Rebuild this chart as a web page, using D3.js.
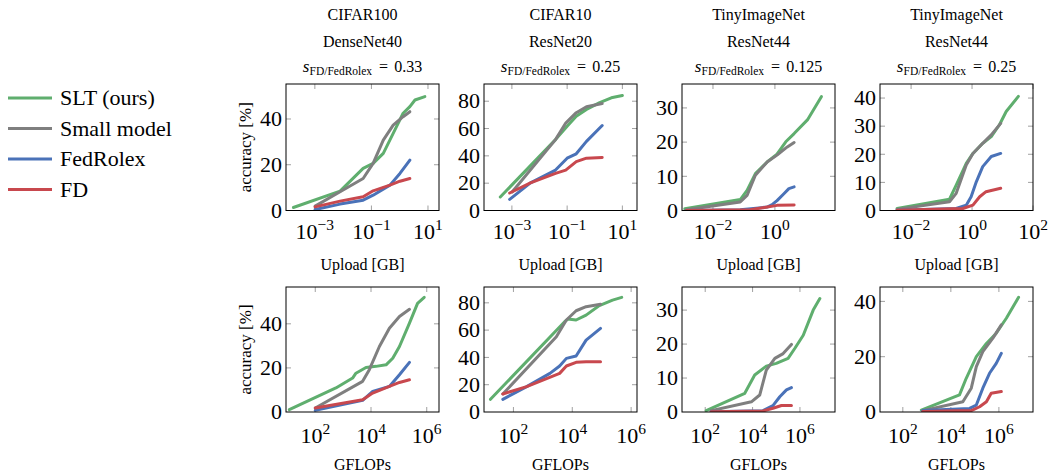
<!DOCTYPE html>
<html>
<head>
<meta charset="utf-8">
<script src="https://cdn.jsdelivr.net/npm/d3@7"></script>
<style>
  html, body, svg, svg text, svg tspan {
    font-family: "Liberation Serif", Tinos, "Times New Roman", "Nimbus Roman", FreeSerif, serif !important;
  }
  body { margin: 0; }
</style>
</head>
<body>
<svg id="chart" width="1051" height="476"></svg>
<script>
// legend / series names
var seriesNames = ["SLT (ours)", "Small model", "FedRolex", "FD"];
var seriesColors = ["#5fae6e", "#7f7f7f", "#4a72b8", "#c8484e"];

// column titles
var datasets = ["CIFAR100", "CIFAR10", "TinyImageNet", "TinyImageNet"];
var models = ["DenseNet40", "ResNet20", "ResNet44", "ResNet44"];
var ratios = ["0.33", "0.25", "0.125", "0.25"];

// ---- upload [GB] vs accuracy [%] ----
var c100UpSlt = [[1.74e-4,1.3],[7.8e-3,8.5],[0.051,18.4],[0.115,20.6],[0.263,25],[0.589,33.7],[1.32,42.5],[2.29,45.4],[3.47,48.3],[7.76,49.8]];
var c100UpSmall = [[1.02e-3,1.9],[7.8e-3,8.2],[0.051,14],[0.115,20.6],[0.263,30.8],[0.589,37.3],[1.32,41],[2.29,43.2]];
var c100UpRolex = [[1.02e-3,0.4],[7.8e-3,2.8],[0.051,4.5],[0.115,6.7],[0.452,11.1],[1.02,16.2],[2.29,22]];
var c100UpFd = [[1.02e-3,1.6],[7.8e-3,4.1],[0.051,6],[0.115,8.6],[0.452,11.1],[1.02,12.8],[2.29,14]];

var c10UpSlt = [[3.8e-4,9.9],[0.038,51.9],[0.1,61.7],[0.214,69],[0.501,74],[1.51,79],[3.98,82.5],[10,84.2]];
var c10UpSmall = [[1.02e-3,13.6],[0.038,51.9],[0.089,64],[0.214,71.6],[0.501,76],[1.86,78.3]];
var c10UpRolex = [[8.3e-4,8.1],[4.7e-3,20.2],[0.038,29.6],[0.1,38.3],[0.214,41.5],[0.501,50.6],[1.86,62.2]];
var c10UpFd = [[8.3e-4,12.8],[4.7e-3,20.2],[0.038,27.2],[0.089,29.6],[0.214,35.8],[0.501,38.3],[1.86,38.8]];

var tinyAUpSlt = [[1.23e-3,0.5],[0.076,3.2],[0.126,5.9],[0.234,10.8],[0.562,14.2],[1.17,16.5],[2.24,20.1],[4.17,22.5],[11.2,26.5],[31.6,33.3]];
var tinyAUpSmall = [[1.38e-3,0.2],[0.076,2.5],[0.126,4.4],[0.234,10.3],[0.562,14.2],[1.17,16.2],[2.51,18.6],[4.17,19.9]];
var tinyAUpRolex = [[1.38e-3,0],[0.076,0.2],[0.562,1.0],[0.813,1.7],[1.17,2.9],[1.95,4.9],[2.82,6.4],[4.17,6.9]];
var tinyAUpFd = [[1.38e-3,0],[0.158,0.2],[0.562,1.0],[1.17,1.5],[4.17,1.6]];

var tinyBUpSlt = [[3.47e-3,0.7],[0.182,4.0],[0.302,9.0],[0.646,16.8],[1.07,20.3],[2.24,23.9],[4.27,26.3],[7.94,30.5],[13.2,35.2],[33.1,40.6]];
var tinyBUpSmall = [[3.47e-3,0.4],[0.182,3.1],[0.302,6.1],[0.646,16.2],[1.07,20.3],[2.24,23.9],[4.27,26.9],[8.71,31]];
var tinyBUpRolex = [[3.47e-3,0.1],[0.302,0.7],[0.646,1.9],[0.933,4.9],[1.38,10.2],[2.24,15.6],[4.27,19.2],[8.71,20.3]];
var tinyBUpFd = [[3.47e-3,0.1],[0.501,0.7],[1.07,1.9],[1.78,4.9],[2.88,6.7],[8.71,7.9]];

// ---- GFLOPs vs accuracy [%] ----
var c100FlSlt = [[11.7,1.1],[550,10.9],[2190,15.4],[2880,17.6],[6610,20.2],[15100,20.7],[34700,21.4],[60300,24.4],[105000,29.7],[240000,40.3],[468000,49.3],[813000,52]];
var c100FlSmall = [[100,1.8],[5010,13.9],[8710,19.2],[20000,29.7],[45700,38],[105000,43.3],[240000,46.6]];
var c100FlRolex = [[100,0.75],[5010,5.3],[11500,9.3],[45700,11.6],[105000,16.9],[240000,22.5]];
var c100FlFd = [[100,1.8],[5010,5.6],[11500,8.6],[45700,11.6],[105000,13.4],[240000,14.6]];

var c10FlSlt = [[16.6,9.3],[5500,66.2],[7080,68.1],[13500,67.4],[29500,71],[83200,78],[234000,82],[479000,84]];
var c10FlSmall = [[43.7,13.2],[2880,55.2],[6310,67.4],[13500,74.2],[29500,77.2],[91200,79]];
var c10FlRolex = [[43.7,9.3],[282,18.6],[1740,28.3],[3720,33.7],[6310,39.3],[13500,41],[29500,52.7],[91200,61.3]];
var c10FlFd = [[43.7,13.2],[282,18.6],[3720,28.3],[6310,33.7],[13500,36.4],[29500,36.9],[91200,36.9]];

var tinyAFlSlt = [[110,0.4],[4680,5.5],[12300,10.9],[38000,13.5],[100000,14.3],[316000,15.8],[603000,18.7],[1.38e6,22.6],[3.63e6,30],[6.92e6,33.4]];
var tinyAFlSmall = [[178,0.4],[8910,3.0],[20000,5.0],[38000,12.3],[87100,15.8],[195000,17.2],[437000,19.9]];
var tinyAFlRolex = [[178,0.1],[27500,0.4],[72400,1.9],[141000,4.5],[269000,6.5],[437000,7.2]];
var tinyAFlFd = [[178,0.1],[27500,0.3],[72400,1.1],[166000,1.9],[437000,1.9]];

var tinyBFlSlt = [[589,0.7],[22900,6.2],[43700,12.2],[115000,20],[302000,24.8],[776000,28.5],[2.04e6,33.9],[6.61e6,41.5]];
var tinyBFlSmall = [[676,0.5],[31600,3.7],[70800,8.6],[115000,16.4],[214000,21.8],[562000,26.7],[1.26e6,31.5]];
var tinyBFlRolex = [[676,0.5],[60300,1.3],[115000,2.5],[214000,8.6],[407000,14],[776000,17.6],[1.26e6,21.2]];
var tinyBFlFd = [[676,0.2],[70800,0.5],[158000,1.9],[302000,3.7],[479000,6.8],[1.26e6,7.4]];

// axis tick labels (exponents of 10 and accuracy values)
var upTickExp = [[-3,-1,1],[-3,-1,1],[-2,0],[-2,0,2]];
var flTickExp = [2,4,6];
var accTicks = [[0,20,40],[0,20,40,60,80],[0,10,20,30],[0,10,20,30,40]];

var panels = [
  {row:0,col:0,series:[c100UpSlt,c100UpSmall,c100UpRolex,c100UpFd],xd:[-4.02,1.39],ymax:55.3,xt:upTickExp[0],yt:accTicks[0]},
  {row:0,col:1,series:[c10UpSlt,c10UpSmall,c10UpRolex,c10UpFd],xd:[-4.01,1.53],ymax:92.6,xt:upTickExp[1],yt:accTicks[1]},
  {row:0,col:2,series:[tinyAUpSlt,tinyAUpSmall,tinyAUpRolex,tinyAUpFd],xd:[-3.0,1.94],ymax:37,xt:upTickExp[2],yt:accTicks[2]},
  {row:0,col:3,series:[tinyBUpSlt,tinyBUpSmall,tinyBUpRolex,tinyBUpFd],xd:[-3.02,2.0],ymax:45,xt:upTickExp[3],yt:accTicks[3]},
  {row:1,col:0,series:[c100FlSlt,c100FlSmall,c100FlRolex,c100FlFd],xd:[0.95,6.44],ymax:56.7,xt:flTickExp,yt:accTicks[0]},
  {row:1,col:1,series:[c10FlSlt,c10FlSmall,c10FlRolex,c10FlFd],xd:[1.0,6.2],ymax:91.6,xt:flTickExp,yt:accTicks[1]},
  {row:1,col:2,series:[tinyAFlSlt,tinyAFlSmall,tinyAFlRolex,tinyAFlFd],xd:[1.02,7.48],ymax:36.8,xt:flTickExp,yt:accTicks[2]},
  {row:1,col:3,series:[tinyBFlSlt,tinyBFlSmall,tinyBFlRolex,tinyBFlFd],xd:[1.05,7.42],ymax:45.2,xt:flTickExp,yt:[0,20,40]}
];

var svg = d3.select("#chart");
var colLeft = [286, 484, 682, 880];
var boxW = 153;
var rowTop = [84, 287];
var boxH = [126.5, 125];
var tickLen = 5;
var serifList = "'Liberation Serif', Tinos, 'Times New Roman', 'Nimbus Roman', FreeSerif, serif";

function label(size) {
  return svg.append("text")
    .style("font-family", serifList)
    .attr("font-size", size);
}

panels.forEach(function(p, i) {
  var x0 = colLeft[p.col], y0 = rowTop[p.row], h = boxH[p.row];
  var x = d3.scaleLog().domain([Math.pow(10, p.xd[0]), Math.pow(10, p.xd[1])]).range([x0, x0 + boxW]);
  var y = d3.scaleLinear().domain([0, p.ymax]).range([y0 + h, y0]);
  var g = svg.append("g");

  g.append("clipPath").attr("id", "clip" + i)
    .append("rect").attr("x", x0).attr("y", y0).attr("width", boxW).attr("height", h);

  // tick marks inside on all four sides
  p.xt.forEach(function(e) {
    var px = x(Math.pow(10, e));
    if (px > x0 + boxW + 0.5) return;
    g.append("line").attr("x1", px).attr("x2", px).attr("y1", y0 + h).attr("y2", y0 + h - tickLen)
      .attr("stroke", "#a0a0a0");
    g.append("line").attr("x1", px).attr("x2", px).attr("y1", y0).attr("y2", y0 + tickLen)
      .attr("stroke", "#a0a0a0");
    var t = label(22).attr("x", px).attr("y", y0 + h + (p.row == 0 ? 28 : 31))
      .attr("text-anchor", "middle");
    t.append("tspan").text("10");
    t.append("tspan").attr("dy", -9).attr("font-size", 15.5).text(e < 0 ? "\u2212" + (-e) : e);
  });
  p.yt.forEach(function(v) {
    var py = y(v);
    if (v > 0) {
      g.append("line").attr("x1", x0).attr("x2", x0 + tickLen).attr("y1", py).attr("y2", py).attr("stroke", "#a0a0a0");
      g.append("line").attr("x1", x0 + boxW).attr("x2", x0 + boxW - tickLen).attr("y1", py).attr("y2", py).attr("stroke", "#a0a0a0");
    }
    label(22).attr("x", x0 - 4).attr("y", py).attr("dy", "0.33em")
      .attr("text-anchor", "end").text(v);
  });

  var line = d3.line().x(function(d) { return x(d[0]); }).y(function(d) { return y(d[1]); });
  var lines = g.append("g").attr("clip-path", "url(#clip" + i + ")");
  p.series.forEach(function(s, k) {
    lines.append("path").datum(s).attr("d", line)
      .attr("fill", "none").attr("stroke", seriesColors[k]).attr("stroke-width", 3)
      .attr("stroke-linejoin", "round").attr("stroke-linecap", "round");
  });

  g.append("rect").attr("x", x0).attr("y", y0).attr("width", boxW).attr("height", h)
    .attr("fill", "none").attr("stroke", "#000").attr("stroke-width", 1);

  var cx = x0 + boxW / 2;
  if (p.row == 0) {
    label(16).attr("x", cx).attr("y", 20).attr("text-anchor", "middle").text(datasets[p.col]);
    label(16).attr("x", cx).attr("y", 47).attr("text-anchor", "middle").text(models[p.col]);
    var t3 = label(16).attr("x", cx).attr("y", 72).attr("text-anchor", "middle");
    t3.append("tspan").attr("font-style", "italic").attr("font-size", 17).text("s");
    t3.append("tspan").attr("font-size", 11.5).attr("dy", 3).text("FD/FedRolex");
    t3.append("tspan").attr("dy", -3).attr("dx", 7).text("=");
    t3.append("tspan").attr("dx", 6).text(ratios[p.col]);
    label(16).attr("x", cx).attr("y", 270).attr("text-anchor", "middle").text("Upload [GB]");
  } else {
    label(16).attr("x", cx).attr("y", 470).attr("text-anchor", "middle").text("GFLOPs");
  }
  if (p.col == 0) {
    label(17).attr("transform", "translate(251," + (y0 + h / 2) + ") rotate(-90)")
      .attr("text-anchor", "middle").text("accuracy [%]");
  }
});

// legend
seriesNames.forEach(function(name, k) {
  var ly = 98 + k * 30.5;
  svg.append("line").attr("x1", 8).attr("x2", 52).attr("y1", ly).attr("y2", ly)
    .attr("stroke", seriesColors[k]).attr("stroke-width", 3);
  label(22).attr("x", 60).attr("y", ly).attr("dy", "0.34em").text(name);
});
</script>
</body>
</html>
